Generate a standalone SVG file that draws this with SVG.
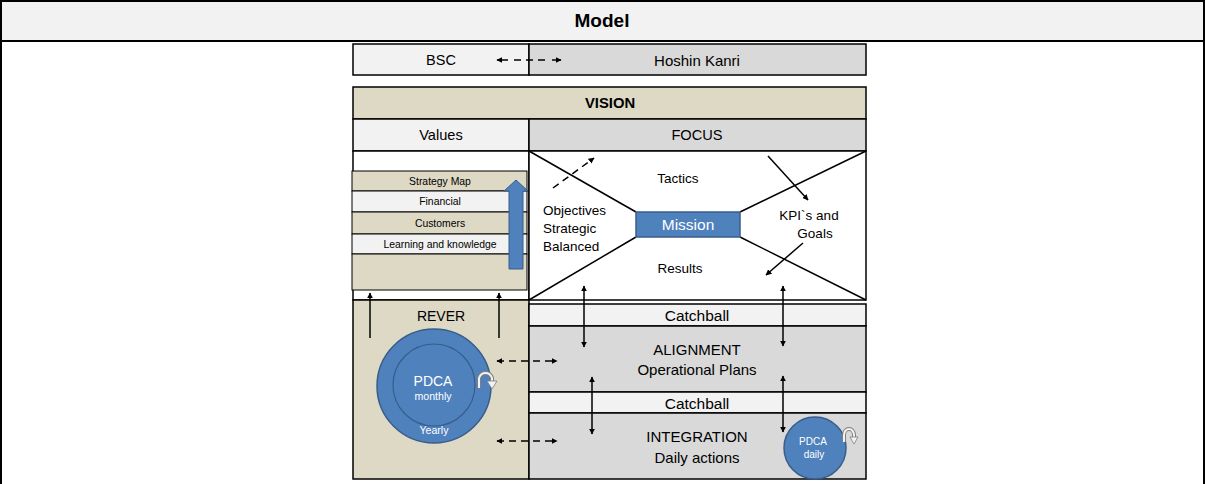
<svg xmlns="http://www.w3.org/2000/svg" width="1205" height="484" viewBox="0 0 1205 484">
<style>
text{font-family:"Liberation Sans",Arial,sans-serif;text-anchor:middle;dominant-baseline:central;fill:#000}
.b{stroke:#000;stroke-width:1.5}
.lt{fill:#f2f2f2}
.gr{fill:#d9d9d9}
.tan{fill:#ddd9c4}
.blue{fill:#4f81bd;stroke:#385d8a;stroke-width:1.5}
.w{fill:#fff}
.ln{stroke:#000;stroke-width:1.5;fill:none}
.arr{stroke:#000;stroke-width:1.5;fill:none;marker-end:url(#ah)}
.arr2{stroke:#000;stroke-width:1.5;fill:none;marker-end:url(#ah);marker-start:url(#ahs)}
.dash{stroke-dasharray:7,5}
.s{text-anchor:start}
</style>
<defs>
<marker id="ah" viewBox="0 0 10 10" refX="9" refY="5" markerWidth="6" markerHeight="6" orient="auto" markerUnits="userSpaceOnUse"><path d="M0,0 L10,5 L0,10 z" fill="#000"/></marker>
<marker id="ahs" viewBox="0 0 10 10" refX="1" refY="5" markerWidth="6" markerHeight="6" orient="auto" markerUnits="userSpaceOnUse"><path d="M10,0 L0,5 L10,10 z" fill="#000"/></marker>
</defs>
<rect x="0" y="0" width="1205" height="484" fill="#fff"/>
<g id="table">
<rect x="1" y="1" width="1203" height="40" fill="#f2f2f2" stroke="#000" stroke-width="2"/>
<line x1="1" y1="41" x2="1" y2="484" stroke="#000" stroke-width="2"/>
<line x1="1204" y1="41" x2="1204" y2="484" stroke="#000" stroke-width="2"/>
<text x="602" y="20" font-size="19" font-weight="bold">Model</text>
</g>
<g id="bsc">
<rect x="353" y="44" width="176" height="31" class="lt b"/>
<text x="441" y="60" font-size="14.5">BSC</text>
</g>
<g id="hoshin">
<rect x="529" y="44" width="337" height="31" class="gr b"/>
<text x="697" y="60" font-size="15">Hoshin Kanri</text>
</g>
<g id="vision">
<rect x="353" y="87" width="513" height="32" class="tan b"/>
<text x="610" y="103" font-size="14.8" font-weight="bold">VISION</text>
</g>
<g id="values">
<rect x="353" y="119" width="176" height="32" class="lt b"/>
<text x="441" y="135" font-size="14.6">Values</text>
</g>
<g id="focus">
<rect x="529" y="119" width="337" height="32" class="gr b"/>
<text x="697" y="135" font-size="14.6">FOCUS</text>
</g>
<g id="leftpanel">
<rect x="353" y="151" width="176" height="149" class="w b"/>
</g>
<g id="strategymap">
<rect x="352" y="171" width="175" height="20" class="tan" stroke="#000" stroke-width="1"/>
<text x="440" y="181" font-size="10.4">Strategy Map</text>
<rect x="352" y="191" width="175" height="21" class="lt" stroke="#000" stroke-width="1"/>
<text x="440" y="201.5" font-size="10.4">Financial</text>
<rect x="352" y="212" width="175" height="22" class="tan" stroke="#000" stroke-width="1"/>
<text x="440" y="223" font-size="10.4">Customers</text>
<rect x="352" y="234" width="175" height="20" class="lt" stroke="#000" stroke-width="1"/>
<text x="440" y="244" font-size="10.4">Learning and knowledge</text>
<rect x="352" y="254" width="175" height="36" class="tan" stroke="#000" stroke-width="1"/>
<path d="M509,269 L509,191 L504,191 L516,180 L528,191 L523,191 L523,269 Z" fill="#4f81bd" stroke="#385d8a" stroke-width="1"/>
</g>
<g id="focuspanel">
<rect x="529" y="151" width="337" height="149" class="w b"/>
<line x1="529" y1="151" x2="636" y2="212" class="ln"/>
<line x1="529" y1="300" x2="636" y2="237" class="ln"/>
<line x1="866" y1="151" x2="740" y2="212" class="ln"/>
<line x1="866" y1="300" x2="740" y2="237" class="ln"/>
<text x="678" y="178" font-size="13.5">Tactics</text>
<text x="680" y="268" font-size="13.5">Results</text>
<text x="543" y="210" font-size="13.5" class="s">Objectives</text>
<text x="543" y="228" font-size="13.5" class="s">Strategic</text>
<text x="543" y="246" font-size="13.5" class="s">Balanced</text>
<text x="809" y="215" font-size="13.5">KPI`s and</text>
<text x="815" y="233" font-size="13.5">Goals</text>
</g>
<g id="mission">
<rect x="636" y="212" width="104" height="25" class="blue"/>
<text x="688" y="224.5" font-size="15.5" style="fill:#fff">Mission</text>
</g>
<g id="rever">
<rect x="353" y="300" width="176" height="179" class="tan b"/>
<text x="441" y="316" font-size="14">REVER</text>
<circle cx="434" cy="386" r="57" class="blue"/>
<circle cx="434" cy="385" r="41" fill="#4f81bd" stroke="#385d8a" stroke-width="1.2"/>
<text x="433" y="381" font-size="14" style="fill:#fff">PDCA</text>
<text x="433" y="396" font-size="10.6" style="fill:#fff">monthly</text>
<text x="434" y="430" font-size="10.6" style="fill:#fff">Yearly</text>
<path d="M479,388 L479,378 A7,8 0 0 1 492,378 L492,382" fill="none" stroke="#7f7f7f" stroke-width="4"/>
<path d="M479,388 L479,378 A7,8 0 0 1 492,378 L492,382" fill="none" stroke="#f2f2f2" stroke-width="2"/>
<path d="M487,381 L497,381 L492,389 Z" fill="#f2f2f2" stroke="#7f7f7f" stroke-width="0.8"/>
</g>
<g id="catchball1">
<rect x="529" y="304" width="337" height="22" class="lt b"/>
<text x="697" y="315" font-size="15.5">Catchball</text>
</g>
<g id="alignment">
<rect x="529" y="326" width="337" height="66" class="gr b"/>
<text x="697" y="349" font-size="15">ALIGNMENT</text>
<text x="697" y="369" font-size="15">Operational Plans</text>
</g>
<g id="catchball2">
<rect x="529" y="392" width="337" height="21" class="lt b"/>
<text x="697" y="403" font-size="15.5">Catchball</text>
</g>
<g id="integration">
<rect x="529" y="413" width="337" height="66" class="gr b"/>
<text x="697" y="436" font-size="15">INTEGRATION</text>
<text x="697" y="457" font-size="15">Daily actions</text>
</g>
<g id="pdcadaily">
<circle cx="815" cy="448" r="31" class="blue"/>
<text x="813" y="441" font-size="10" style="fill:#fff">PDCA</text>
<text x="814" y="454" font-size="10" style="fill:#fff">daily</text>
<path d="M844,442 L844,435 A5,6 0 0 1 854,435 L854,438" fill="none" stroke="#7f7f7f" stroke-width="4"/>
<path d="M844,442 L844,435 A5,6 0 0 1 854,435 L854,438" fill="none" stroke="#f2f2f2" stroke-width="2"/>
<path d="M850,437 L858,437 L854,444 Z" fill="#f2f2f2" stroke="#7f7f7f" stroke-width="0.8"/>
</g>
<g id="connectors">
<line x1="508" y1="60" x2="497" y2="60" class="arr"/>
<line x1="514" y1="60" x2="545" y2="60" class="ln dash"/>
<line x1="552" y1="60" x2="561" y2="60" class="arr"/>
<line x1="553" y1="188" x2="594" y2="158" class="arr dash"/>
<line x1="768" y1="156" x2="808" y2="200" class="arr"/>
<line x1="803" y1="243" x2="766" y2="275" class="arr"/>
<line x1="370" y1="338" x2="370" y2="293" class="arr"/>
<line x1="499" y1="338" x2="499" y2="293" class="arr"/>
<line x1="497" y1="361" x2="557" y2="361" class="arr2 dash"/>
<line x1="497" y1="441" x2="557" y2="441" class="arr2 dash"/>
<line x1="584" y1="286" x2="584" y2="347" class="arr2"/>
<line x1="783" y1="286" x2="783" y2="346" class="arr2"/>
<line x1="592" y1="377" x2="592" y2="434" class="arr2"/>
<line x1="783" y1="376" x2="783" y2="432" class="arr2"/>
</g>
</svg>
